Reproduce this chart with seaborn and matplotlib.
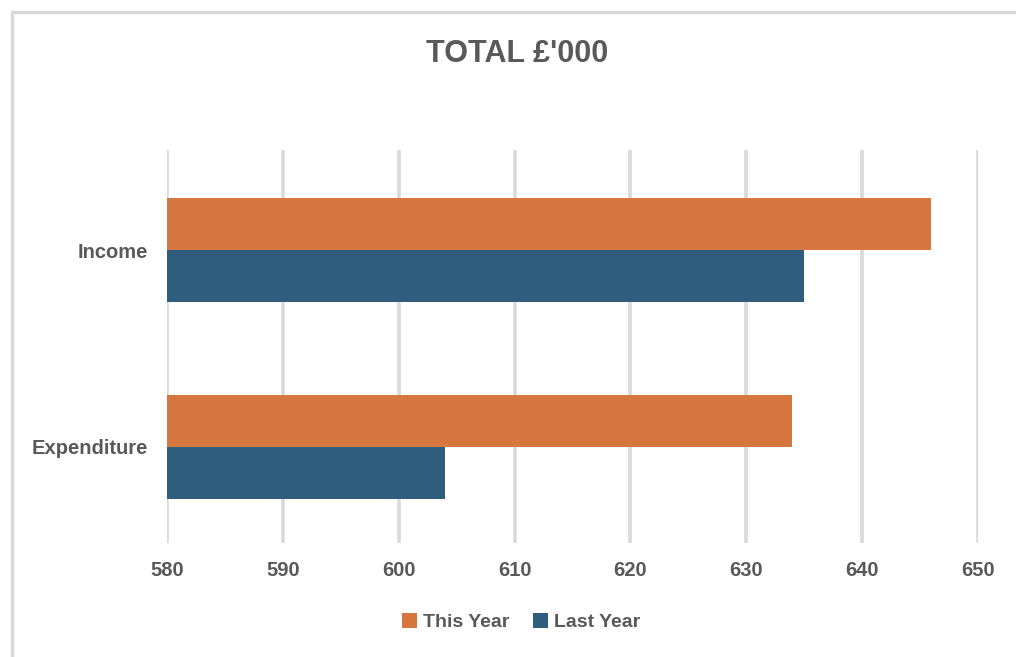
import pandas as pd
import matplotlib.pyplot as plt
import seaborn as sns
from matplotlib.lines import Line2D

# Data
categories = ["Income", "Expenditure"]
this_year = [646, 634]
last_year = [635, 604]
series_names = ["This Year", "Last Year"]
x_ticks = [580, 590, 600, 610, 620, 630, 640, 650]

df = pd.DataFrame({
    "Category": categories * 2,
    "Series": [series_names[0]] * 2 + [series_names[1]] * 2,
    "Value": this_year + last_year,
})

sns.set_style("white")
plt.rcParams["font.family"] = ["Liberation Sans Narrow", "Liberation Sans", "DejaVu Sans"]
text_col = "#595959"

fig = plt.figure(figsize=(10.16, 6.57), dpi=100)
ax = fig.add_axes([0.1644, 0.173, 0.798, 0.599])

sns.barplot(data=df, y="Category", x="Value", hue="Series", orient="h",
            palette=["#D6773F", "#2F5D7D"], width=0.53, saturation=1,
            linewidth=0, ax=ax, legend=True)

ax.set_xlim(580, 650)
ax.set_ylim(1.49, -0.51)
ax.set_xticks(x_ticks)
ax.set_xlabel("")
ax.set_ylabel("")
ax.grid(axis="x", color="#D9D9D9", linewidth=2.6)
ax.set_axisbelow(True)
for s in ax.spines.values():
    s.set_visible(False)
ax.tick_params(axis="both", length=0, labelsize=14.5, labelcolor=text_col)
ax.tick_params(axis="x", pad=13)
ax.tick_params(axis="y", pad=14)
for lab in ax.get_xticklabels() + ax.get_yticklabels():
    lab.set_fontweight("bold")

leg = ax.legend(loc="center", bbox_to_anchor=(0.513, 0.053), bbox_transform=fig.transFigure,
                ncol=2, frameon=False, handlelength=0.8, handleheight=0.8,
                handletextpad=0.3, columnspacing=1.2, prop={"size": 14, "weight": "bold"})
for t in leg.get_texts():
    t.set_color(text_col)

fig.text(0.509, 0.918, "TOTAL £'000", ha="center", va="center",
         fontsize=22, fontweight="bold", color=text_col)

# outer chart border (top and left visible)
fig.add_artist(Line2D([0.012, 0.012], [0, 0.982], transform=fig.transFigure,
                      color="#D9D9D9", linewidth=2.5))
fig.add_artist(Line2D([0.012, 1.0], [0.982, 0.982], transform=fig.transFigure,
                      color="#D9D9D9", linewidth=2.5))

fig.savefig("out.png", dpi=100)
